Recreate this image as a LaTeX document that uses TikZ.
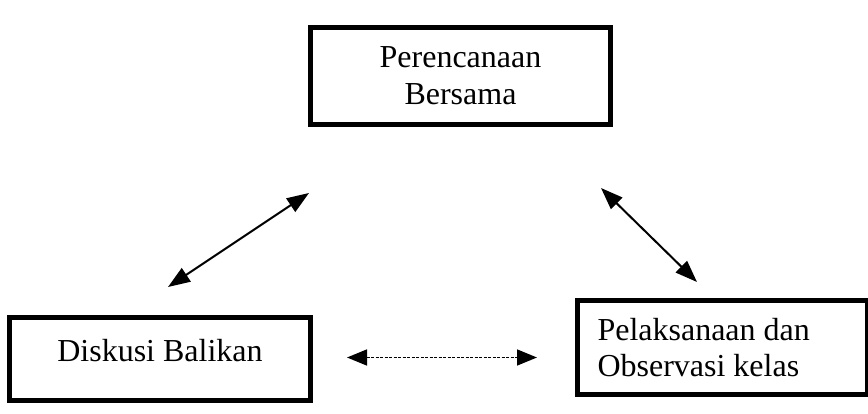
\documentclass[tikz,border=0pt]{standalone}
\usepackage{fontspec}
\setmainfont{Liberation Serif}
\usetikzlibrary{arrows.meta}

\begin{document}
\begin{tikzpicture}[x=1pt,y=-1pt,inner sep=0pt,outer sep=0pt,
	kotak/.style={draw,rectangle,line width=5pt,font=\fontsize{32}{37}\selectfont},
	panah/.style={<->,>={Triangle[length=22pt,width=16pt]},line width=2pt}]
	\useasboundingbox (0,0) rectangle (868,414);
	\node[kotak,minimum width=300pt,minimum height=97pt,align=center] (rencana) at (460.5,76) {Perencanaan\\Bersama};
	\node[kotak,minimum width=301pt,minimum height=83pt,text depth=18pt] (diskusi) at (160,359) {Diskusi Balikan};
	\node[kotak,minimum width=289.5pt,minimum height=94pt,text width=249.5pt,align=flush left,
		font=\fontsize{32}{36}\selectfont] (laksana) at (722.25,347.5) {Pelaksanaan dan\\Observasi kelas};
	% ujung panah
	\coordinate (a1) at (309,193);
	\coordinate (a2) at (168,287);
	\coordinate (b1) at (601,188);
	\coordinate (b2) at (697,282);
	\coordinate (c1) at (347,357.5);
	\coordinate (c2) at (537,357.5);
	\draw[panah] (a1) -- (a2);
	\draw[panah] (b1) -- (b2);
	\draw[panah,line width=1.6pt,dash pattern=on 3pt off 1.5pt,
		>={Triangle[length=20pt,width=16pt]}] (c1) -- (c2);
\end{tikzpicture}
\end{document}
